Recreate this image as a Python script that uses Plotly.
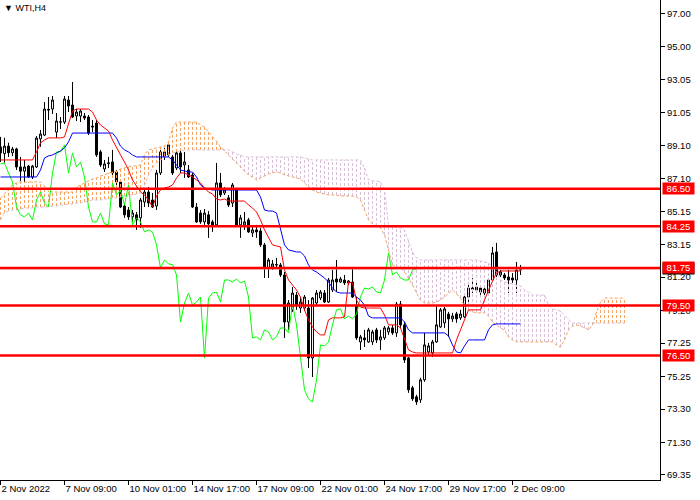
import plotly.graph_objects as go

# ---------------- data ----------------
tick_pos = [0, 16, 32, 48, 64, 80, 96, 112, 128]
tick_labels = ["2 Nov 2022", "7 Nov 09:00", "10 Nov 01:00", "14 Nov 17:00", "17 Nov 09:00",
               "22 Nov 01:00", "24 Nov 17:00", "29 Nov 17:00", "2 Dec 09:00"]

price_ticks = [97.00, 95.00, 93.05, 91.05, 89.10, 87.10, 85.15, 83.15, 81.20, 79.20,
               77.25, 75.25, 73.30, 71.30, 69.35]

levels = [86.50, 84.25, 81.75, 79.50, 76.50]

opens = [89.00, 88.60, 89.05, 88.65, 88.88, 87.80, 87.55, 87.85, 87.20, 87.80,
         89.48, 89.71, 91.25, 91.27, 89.89, 90.50, 90.49, 91.81, 91.51, 90.85,
         90.85, 90.85, 90.79, 90.25, 90.43, 88.70, 87.68, 88.00, 88.10, 87.50,
         86.90, 85.46, 85.22, 84.81, 84.93, 84.75, 85.70, 86.30, 85.82, 85.46,
         87.44, 88.40, 88.52, 88.40, 87.74, 88.64, 87.92, 87.62, 87.32, 85.40,
         85.04, 84.51, 84.93, 84.51, 84.33, 86.84, 86.24, 85.95, 85.64, 86.42,
         84.33, 84.33, 84.63, 83.85, 84.03, 83.97, 83.13, 81.75, 81.81, 81.93,
         81.93, 81.33, 78.51, 79.24, 80.13, 79.35, 79.35, 79.35, 76.36, 79.65,
         79.95, 80.25, 79.71, 80.43, 81.09, 80.91, 81.03, 80.85, 80.91, 79.53,
         77.32, 77.56, 77.32, 77.32, 78.04, 77.44, 77.56, 77.92, 78.16, 77.86,
         79.59, 78.34, 76.36, 74.57, 74.03, 73.85, 75.05, 76.72, 76.66, 77.32,
         78.22, 78.46, 78.99, 78.70, 79.00, 78.76, 78.82, 80.01, 80.55, 80.43,
         80.55, 80.49, 80.25, 81.03, 82.71, 81.33, 81.33, 81.21, 81.15, 81.03,
         81.63]
highs = [89.60, 89.55, 89.25, 89.00, 88.95, 88.40, 88.22, 87.92, 87.92, 89.65,
         90.01, 91.69, 91.99, 92.05, 91.03, 90.79, 92.05, 92.05, 92.89, 91.27,
         91.27, 91.03, 90.91, 90.61, 90.61, 88.82, 88.22, 88.40, 88.82, 87.62,
         87.02, 85.64, 85.40, 85.22, 85.10, 85.95, 86.54, 86.60, 86.24, 87.62,
         88.82, 88.95, 89.30, 88.52, 88.82, 88.82, 88.70, 87.92, 87.44, 85.64,
         85.22, 85.28, 85.16, 84.63, 88.04, 87.44, 86.60, 86.12, 86.84, 86.54,
         84.93, 85.10, 84.75, 84.27, 84.33, 84.15, 83.25, 82.35, 82.23, 82.35,
         82.05, 81.51, 79.83, 80.61, 80.31, 80.01, 80.13, 79.83, 80.01, 80.43,
         80.43, 80.43, 81.15, 81.63, 82.23, 81.21, 81.33, 81.03, 81.81, 80.01,
         77.74, 78.04, 78.16, 78.04, 78.16, 78.04, 78.28, 78.28, 78.34, 79.71,
         79.77, 78.52, 76.42, 74.69, 74.15, 75.17, 77.86, 77.26, 77.44, 79.53,
         79.35, 79.41, 79.12, 79.06, 79.12, 79.24, 80.13, 80.73, 81.15, 80.85,
         80.73, 80.61, 81.15, 83.01, 83.25, 81.63, 81.45, 81.63, 81.45, 82.11,
         81.93]
lows = [88.10, 88.05, 88.40, 88.45, 87.62, 86.95, 86.90, 87.14, 87.08, 87.74,
        89.00, 89.65, 90.61, 90.97, 89.54, 90.07, 90.37, 91.09, 90.73, 90.55,
        90.49, 90.61, 89.71, 89.89, 88.40, 87.80, 87.50, 87.74, 87.32, 86.60,
        85.34, 84.75, 84.63, 84.51, 84.03, 84.15, 85.40, 85.40, 85.34, 85.22,
        87.32, 88.22, 88.40, 87.32, 87.62, 87.44, 87.14, 87.14, 85.34, 84.45,
        84.39, 84.33, 83.55, 83.91, 84.21, 86.00, 86.12, 85.40, 85.40, 84.21,
        83.55, 84.03, 83.85, 83.61, 83.55, 83.01, 81.15, 81.15, 81.63, 81.75,
        81.21, 77.56, 78.04, 79.12, 79.24, 79.06, 79.18, 75.76, 75.22, 79.53,
        79.83, 79.65, 79.65, 80.31, 80.31, 80.85, 80.73, 80.73, 79.95, 77.44,
        76.84, 77.02, 77.26, 77.14, 77.26, 76.84, 77.44, 77.74, 77.74, 77.62,
        78.16, 76.06, 74.27, 73.79, 73.55, 73.67, 74.93, 76.54, 76.42, 77.26,
        78.16, 78.16, 77.62, 78.52, 78.46, 78.64, 78.76, 79.71, 80.25, 80.25,
        80.13, 80.13, 80.13, 80.91, 81.21, 81.21, 81.03, 80.25, 80.85, 80.25,
        81.33]
closes = [88.64, 89.05, 88.65, 88.88, 87.80, 87.55, 87.80, 87.20, 87.85, 89.53,
          89.77, 91.27, 91.21, 91.81, 90.55, 90.49, 91.87, 91.45, 90.79, 91.09,
          91.15, 90.73, 89.83, 90.20, 88.52, 87.92, 87.98, 88.04, 87.44, 86.90,
          85.40, 84.93, 84.81, 85.04, 84.63, 85.82, 86.30, 85.64, 85.40, 87.44,
          88.70, 88.70, 89.12, 87.44, 88.64, 87.80, 88.10, 87.20, 85.40, 84.51,
          84.51, 85.04, 84.39, 84.33, 86.84, 86.12, 86.42, 85.52, 86.72, 84.33,
          84.75, 84.51, 83.91, 84.03, 83.91, 83.13, 81.75, 82.23, 81.99, 81.95,
          81.33, 78.51, 79.65, 80.25, 79.53, 79.71, 80.01, 76.36, 79.95, 80.25,
          80.31, 79.71, 81.03, 81.03, 80.91, 81.09, 80.85, 80.97, 80.01, 77.56,
          77.62, 77.44, 78.04, 77.92, 77.44, 77.62, 78.16, 78.16, 77.86, 79.59,
          78.34, 76.24, 74.45, 73.91, 73.73, 75.05, 77.14, 77.08, 77.32, 78.34,
          79.24, 79.30, 78.70, 78.87, 78.70, 78.99, 80.01, 80.55, 80.49, 80.61,
          80.31, 80.25, 81.03, 82.65, 81.33, 81.51, 81.15, 81.03, 81.03, 81.63,
          81.69]

tenkan = [88.22, 88.22, 88.22, 88.22, 88.22, 88.22, 88.22, 88.22, 88.22, 88.70,
          89.24, 89.42, 89.54, 89.54, 89.54, 89.54, 89.60, 90.31, 91.15, 91.27,
          91.27, 91.27, 91.27, 91.09, 90.61, 90.31, 90.13, 89.95, 89.42, 88.94,
          88.52, 88.10, 87.62, 87.02, 86.66, 86.30, 86.12, 85.82, 85.40, 86.06,
          86.42, 86.54, 86.60, 86.72, 87.14, 87.44, 87.44, 87.32, 87.20, 87.02,
          86.84, 86.54, 86.30, 86.18, 85.88, 85.82, 85.88, 85.76, 85.76, 85.76,
          85.76, 85.76, 85.52, 85.34, 85.10, 84.63, 84.03, 83.55, 83.13, 83.07,
          83.01, 81.63, 81.03, 80.73, 80.43, 80.01, 79.24, 78.64, 78.22, 77.92,
          77.74, 77.74, 78.64, 78.76, 78.76, 78.76, 78.82, 80.91, 80.85, 79.83,
          79.41, 79.35, 79.35, 79.35, 79.35, 79.35, 78.93, 78.34, 78.34, 78.34,
          78.16, 77.56, 76.84, 76.72, 76.66, 76.66, 76.66, 76.66, 76.66, 76.66,
          76.66, 76.66, 76.66, 76.66, 77.44, 78.04, 78.64, 79.24, 79.24, 79.24,
          79.24, 79.83, 80.43, 80.97, 81.45, 81.57, 81.57, 81.57, 81.57, 81.57,
          81.57]
kijun = [87.20, 87.20, 87.20, 87.20, 87.20, 87.20, 87.20, 87.20, 87.20, 87.20,
         87.62, 88.34, 88.46, 88.52, 88.64, 88.76, 88.94, 89.30, 89.83, 89.83,
         89.83, 89.83, 89.83, 89.83, 89.83, 89.83, 89.83, 89.83, 89.83, 89.53,
         89.05, 88.82, 88.70, 88.52, 88.40, 88.40, 88.40, 88.40, 88.40, 88.40,
         88.40, 88.40, 88.40, 88.22, 87.92, 87.62, 87.56, 87.50, 87.50, 87.20,
         86.72, 86.54, 86.48, 86.42, 86.42, 86.42, 86.42, 86.42, 86.42, 86.42,
         86.42, 86.42, 86.42, 86.42, 86.42, 86.00, 85.22, 85.16, 85.16, 85.04,
         84.15, 83.13, 82.83, 82.77, 82.71, 82.71, 82.47, 81.93, 81.63, 81.51,
         81.33, 81.15, 80.91, 80.55, 80.31, 80.25, 80.25, 80.25, 80.25, 80.01,
         79.83, 79.53, 78.87, 78.76, 78.76, 78.76, 78.76, 78.76, 78.76, 78.76,
         78.76, 78.52, 78.04, 77.86, 77.86, 77.86, 77.86, 77.86, 77.86, 77.86,
         77.86, 77.86, 77.68, 77.14, 76.72, 76.66, 77.08, 77.44, 77.44, 77.44,
         77.44, 77.44, 78.04, 78.34, 78.40, 78.40, 78.40, 78.40, 78.40, 78.40,
         78.40]
span_a = [85.94, 86.18, 86.42, 86.72, 86.84, 86.90, 86.90, 86.90, 86.90, 86.90,
          86.90, 86.66, 86.36, 86.30, 86.30, 86.30, 86.30, 86.30, 86.30, 86.60,
          86.72, 86.84, 86.96, 87.08, 87.14, 87.26, 87.32, 87.44, 87.50, 87.56,
          87.68, 87.74, 87.80, 87.86, 87.86, 87.92, 88.52, 88.82, 88.88, 88.94,
          89.00, 89.06, 89.30, 90.13, 90.49, 90.49, 90.49, 90.49, 90.49, 90.49,
          90.31, 90.19, 89.89, 89.65, 89.35, 89.00, 88.76, 88.52, 88.22, 87.98,
          87.74, 87.50, 87.32, 87.20, 87.02, 87.14, 87.26, 87.38, 87.44, 87.50,
          87.44, 87.32, 87.26, 87.20, 87.14, 87.08, 86.84, 86.60, 86.42, 86.30,
          86.24, 86.18, 86.12, 86.12, 86.12, 86.06, 86.06, 86.06, 86.06, 86.00,
          85.82, 85.22, 84.63, 84.39, 84.27, 84.15, 83.72, 82.83, 81.93, 81.81,
          81.75, 81.51, 81.15, 80.73, 80.25, 79.83, 79.65, 79.65, 79.65, 79.71,
          79.83, 80.01, 80.25, 80.43, 80.19, 79.95, 79.47, 79.24, 79.12, 79.06,
          79.06, 79.06, 78.87, 78.51, 78.33, 78.15, 78.04, 77.61, 77.44, 77.32,
          77.32, 77.32, 77.32, 77.32, 77.32, 77.32, 77.32, 77.32, 77.32, 77.13,
          77.01, 77.44, 78.04, 78.27, 78.33, 78.27, 78.15, 78.04, 78.33, 79.12,
          79.71, 79.95, 79.95, 79.95, 79.95, 79.95, 79.95]
span_b = [84.62, 85.04, 85.16, 85.22, 85.22, 85.28, 85.34, 85.34, 85.34, 85.40,
          85.40, 85.40, 85.40, 85.46, 85.46, 85.52, 85.52, 85.58, 85.58, 85.64,
          85.64, 85.70, 85.76, 85.82, 85.82, 85.82, 85.88, 85.88, 85.94, 85.94,
          86.00, 86.06, 86.12, 86.12, 86.18, 86.24, 86.72, 87.32, 87.74, 88.04,
          88.22, 88.40, 88.52, 88.64, 88.70, 88.76, 88.82, 88.82, 88.82, 88.82,
          88.82, 88.82, 88.82, 88.82, 88.82, 88.82, 88.82, 88.82, 88.70, 88.58,
          88.52, 88.40, 88.40, 88.40, 88.40, 88.40, 88.40, 88.40, 88.40, 88.40,
          88.40, 88.40, 88.40, 88.40, 88.40, 88.40, 88.34, 88.28, 88.22, 88.22,
          88.22, 88.22, 88.22, 88.22, 88.22, 88.22, 88.22, 88.22, 88.22, 88.22,
          88.22, 87.74, 87.02, 86.96, 86.96, 86.90, 86.42, 84.26, 84.20, 84.20,
          84.14, 84.02, 83.42, 82.71, 82.35, 82.23, 82.23, 82.23, 82.23, 82.23,
          82.23, 82.23, 82.23, 82.23, 82.23, 82.23, 82.23, 82.23, 82.23, 82.23,
          82.17, 82.11, 82.05, 81.81, 81.51, 81.03, 80.91, 80.85, 80.79, 80.73,
          80.67, 80.43, 80.31, 80.13, 80.13, 80.13, 80.13, 79.53, 79.29, 79.24,
          79.17, 78.93, 78.64, 78.45, 78.45, 78.45, 78.45, 78.45, 78.45, 78.45,
          78.45, 78.45, 78.45, 78.45, 78.45, 78.45, 78.45]

CHIKOU_SHIFT = 26

# ---------------- styles ----------------
UP_KUMO = "#F4A460"     # sandy brown
DOWN_KUMO = "#D8BFD8"   # thistle
FONT = "Liberation Sans"

bars = list(range(len(closes)))
cloud_x = list(range(len(span_a)))

fig = go.Figure()

# cloud hatching (vertical dashed strokes at each bar)
ux, uy, dx, dy = [], [], [], []
for i, (a, b) in enumerate(zip(span_a, span_b)):
    if a >= b:
        ux += [i, i, None]
        uy += [b, a, None]
    else:
        dx += [i, i, None]
        dy += [a, b, None]
fig.add_trace(go.Scatter(x=ux, y=uy, mode="lines", connectgaps=False,
                         line=dict(color=UP_KUMO, width=1, dash="3px,2px"), hoverinfo="skip"))
fig.add_trace(go.Scatter(x=dx, y=dy, mode="lines", connectgaps=False,
                         line=dict(color=DOWN_KUMO, width=1, dash="3px,2px"), hoverinfo="skip"))
# cloud borders
fig.add_trace(go.Scatter(x=cloud_x, y=span_b, mode="lines",
                         line=dict(color=DOWN_KUMO, width=1, dash="3px,2px"), hoverinfo="skip"))
fig.add_trace(go.Scatter(x=cloud_x, y=span_a, mode="lines",
                         line=dict(color=UP_KUMO, width=1, dash="3px,2px"), hoverinfo="skip"))

# candles
fig.add_trace(go.Candlestick(
    x=bars, open=opens, high=highs, low=lows, close=closes,
    increasing=dict(line=dict(color="black", width=1), fillcolor="white"),
    decreasing=dict(line=dict(color="black", width=1), fillcolor="black"),
    whiskerwidth=0, hoverinfo="skip"))

# chikou span: closes plotted 26 bars back
fig.add_trace(go.Scatter(x=[b - CHIKOU_SHIFT for b in bars[CHIKOU_SHIFT:]],
                         y=closes[CHIKOU_SHIFT:], mode="lines",
                         line=dict(color="#00FF00", width=1), hoverinfo="skip"))
fig.add_trace(go.Scatter(x=bars, y=kijun, mode="lines",
                         line=dict(color="#0000FF", width=1), hoverinfo="skip"))
fig.add_trace(go.Scatter(x=bars, y=tenkan, mode="lines",
                         line=dict(color="#FF0000", width=1), hoverinfo="skip"))

# bid line
bid = closes[-1]
fig.add_shape(type="line", xref="paper", x0=0, x1=1, yref="y", y0=bid, y1=bid,
              line=dict(color="#C0C0C0", width=1))
# horizontal levels
for lv in levels:
    fig.add_shape(type="line", xref="paper", x0=0, x1=1, yref="y", y0=lv, y1=lv,
                  line=dict(color="#FF0000", width=2.5))

# bid price label (mostly hidden below level label)
fig.add_annotation(x=1, xref="paper", xanchor="left", xshift=2, y=bid, yref="y",
                   text=f"{bid:.2f}", showarrow=False, bgcolor="black",
                   font=dict(color="white", size=9.5, family=FONT),
                   width=31, height=11, borderpad=0)
for lv in levels:
    fig.add_annotation(x=1, xref="paper", xanchor="left", xshift=2, y=lv, yref="y",
                       text=f"{lv:.2f}", showarrow=False, bgcolor="#FF0000",
                       font=dict(color="white", size=9.5, family=FONT),
                       width=31, height=11, borderpad=0)

# symbol caption
fig.add_annotation(x=0, xref="paper", xanchor="left", xshift=2, y=1, yref="paper",
                   yanchor="top", yshift=-1, text="▼ WTI,H4", showarrow=False,
                   font=dict(color="black", size=9, family=FONT))

fig.update_layout(
    width=700, height=500, margin=dict(l=0, r=40, t=0, b=20),
    paper_bgcolor="white", plot_bgcolor="white", showlegend=False,
    xaxis=dict(range=[-0.125, 164.875], tickmode="array", tickvals=tick_pos, ticktext=tick_labels,
               ticks="outside", ticklen=4, tickcolor="black", showline=True, linecolor="black",
               linewidth=1, showgrid=False, zeroline=False, rangeslider=dict(visible=False),
               ticklabelposition="outside right", tickangle=0, automargin=False,
               tickfont=dict(family=FONT, size=9.5, color="black")),
    yaxis=dict(range=[69.05, 97.80], side="right", tickmode="array", tickvals=price_ticks,
               ticktext=[f"{v:.2f}" for v in price_ticks], ticks="outside", ticklen=4,
               tickcolor="black", showline=True, linecolor="black", linewidth=1,
               showgrid=False, zeroline=False, automargin=False,
               tickfont=dict(family=FONT, size=9.5, color="black")),
)

fig.write_html("out.html", config={"displayModeBar": False},
               post_script="document.body.style.margin='0px';document.body.style.overflow='hidden';")
